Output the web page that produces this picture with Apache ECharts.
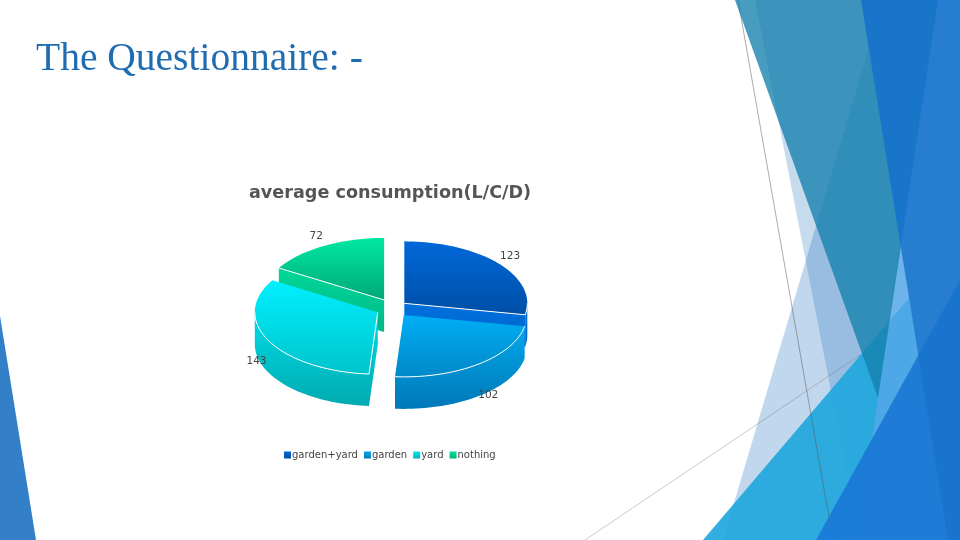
<!DOCTYPE html>
<html><head><meta charset="utf-8">
<style>html,body{margin:0;padding:0;background:#fff}#c{width:960px;height:540px}</style>
<script src="https://cdn.jsdelivr.net/npm/echarts@6/dist/echarts.min.js"></script>
</head><body><div id="c"></div>
<script>
const categories = ['garden+yard','garden','yard','nothing'];
const values = [123,102,143,72];
const slideTitle = 'The Questionnaire: -';
const chartTitle = 'average consumption(L/C/D)';

const total = values.reduce((a,b)=>a+b,0);
const CX=392, CY=308.5, RX=123, RY=62, DEPTH=32, EXPLODE=16;
const sliceNudge = [[0,0],[2,0],[0,0],[0,-1.5]];
const labelNudge = [[-2,0],[-1,3],[3,-4],[1,1]];
const LG = (a,b)=>new echarts.graphic.LinearGradient(0,0,0,1,[{offset:0,color:a},{offset:1,color:b}]);
const palette = [
  {top:['#0068da','#004fa6'], wall:['#0070de','#0064cc'], legend:['#0068da','#004fa6']},
  {top:['#00aef6','#0088c8'], wall:['#00a8ea','#0078b8'], legend:['#00a8ea','#0078b8']},
  {top:['#00f0ff','#00c4cc'], wall:['#00dce6','#00aab0'], legend:['#00e4ee','#00b4bc']},
  {top:['#00e8a2','#00a878'], wall:['#00d898','#00b888'], legend:['#00e09c','#00b080']}
];
const labelColor = '#444';

function makeRender(i){
  return function(params, api){
    const v = api.value(0);
    let before = 0; for(let k=0;k<i;k++) before += values[k];
    const a0 = before/total*360, a1 = (before+v)/total*360, mid=(a0+a1)/2;
    const rad = d=>d*Math.PI/180;
    const cx = CX + sliceNudge[i][0] + EXPLODE*Math.sin(rad(mid));
    const cy = CY + sliceNudge[i][1] - EXPLODE*(RY/RX)*Math.cos(rad(mid));
    const pt = (d,dz)=>[cx+RX*Math.sin(rad(d)), cy-RY*Math.cos(rad(d))+(dz||0)];
    const arc = (s,e,dz)=>{const p=[],n=Math.max(2,Math.ceil((e-s)/2));for(let k=0;k<=n;k++)p.push(pt(s+(e-s)*k/n,dz));return p;};
    const kids = [];
    const poly = (points,style)=>kids.push({type:'polygon',silent:true,shape:{points},style,z2:kids.length});
    const line = (points)=>kids.push({type:'polyline',silent:true,shape:{points},style:{fill:null,stroke:'#fff',lineWidth:1},z2:kids.length+50});
    const C = palette[i];
    const wall = {fill:LG(C.wall[0],C.wall[1])};
    const apex=[cx,cy], apexB=[cx,cy+DEPTH];
    if(Math.sin(rad(a0))<-1e-6){
      const p=pt(a0); poly([apex,p,[p[0],p[1]+DEPTH],apexB],wall); line([apex,p]);
    }
    if(Math.sin(rad(a1))>1e-6){
      const p=pt(a1); poly([apex,p,[p[0],p[1]+DEPTH],apexB],wall); line([apex,p]);
    }
    const s=Math.max(a0,90), e=Math.min(a1,270);
    if(e>s){
      const upper=arc(s,e,0), lower=arc(s,e,DEPTH).reverse();
      poly(upper.concat(lower),wall); line(upper);
    }
    poly([apex].concat(arc(a0,a1,0)),{fill:LG(C.top[0],C.top[1])});
    kids[kids.length-1].z2=40;
    const sn=Math.sin(rad(mid)), cs=Math.cos(rad(mid));
    kids.push({type:'text',silent:true,z2:100,style:{
      x:cx+140*sn+labelNudge[i][0], y:cy-74*cs+(cs<0?19:0)+labelNudge[i][1], text:String(v),
      fill:labelColor, font:'10.5px "DejaVu Sans"', align:'center', verticalAlign:'middle'}});
    return {type:'group',children:kids};
  };
}

const zOrder = [3,5,4,2];
const series = categories.map((name,i)=>({
  type:'custom', name, coordinateSystem:'none', silent:true, animation:false, z:zOrder[i],
  clip:false, data:[values[i]], renderItem:makeRender(i),
  itemStyle:{color:palette[i].legend[0]}
}));

const bg = (points,fill)=>({type:'polygon',silent:true,shape:{points},style:{fill}});
const gl = (a,b,stroke)=>({type:'line',silent:true,shape:{x1:a[0],y1:a[1],x2:b[0],y2:b[1]},style:{stroke,lineWidth:1}});
const decoration = [
  bg([[755,0],[938,0],[900,240],[860,540]],'rgba(31,111,192,0.25)'),
  bg([[723,540],[883,0],[938,0],[900,240],[860,540]],'rgba(31,111,192,0.28)'),
  bg([[703,540],[909,298],[948,540]],'rgba(33,167,221,0.92)'),
  bg([[900,240],[948,540],[858,540]],'rgba(83,167,231,0.85)'),
  gl([738,0],[833,540],'rgba(90,90,90,0.5)'),
  gl([585,540],[860,355],'rgba(120,120,120,0.4)'),
  bg([[735,0],[938,0],[878,398]],'rgba(21,128,173,0.78)'),
  bg([[816,540],[960,280],[960,540]],'rgba(26,120,214,0.92)'),
  bg([[861,0],[960,0],[960,540],[948,540]],'rgba(23,115,203,0.93)'),
  bg([[0,316],[36,540],[0,540]],'#3380c9')
];

const chart = echarts.init(document.getElementById('c'),null,{renderer:'canvas'});
chart.setOption({
  animation:false,
  backgroundColor:'#fff',
  title:[
    {text:slideTitle,left:31,top:35,textStyle:{fontFamily:'Liberation Serif',fontSize:39.5,fontWeight:'normal',color:'#1f6cb0'}},
    {text:chartTitle,left:244,top:179,textStyle:{fontFamily:'DejaVu Sans',fontSize:17.6,fontWeight:'bold',color:'#555'}}
  ],
  legend:{
    left:279, top:445, orient:'horizontal', itemWidth:7, itemHeight:7, itemGap:6, icon:'rect',
    textStyle:{fontFamily:'DejaVu Sans',fontSize:10,color:'#444',padding:[0,0,0,-4]},
    data:categories.map((name,i)=>({name,itemStyle:{color:LG(palette[i].legend[0],palette[i].legend[1])}})),
    selectedMode:false
  },
  graphic:{elements:decoration},
  series
});
</script></body></html>
